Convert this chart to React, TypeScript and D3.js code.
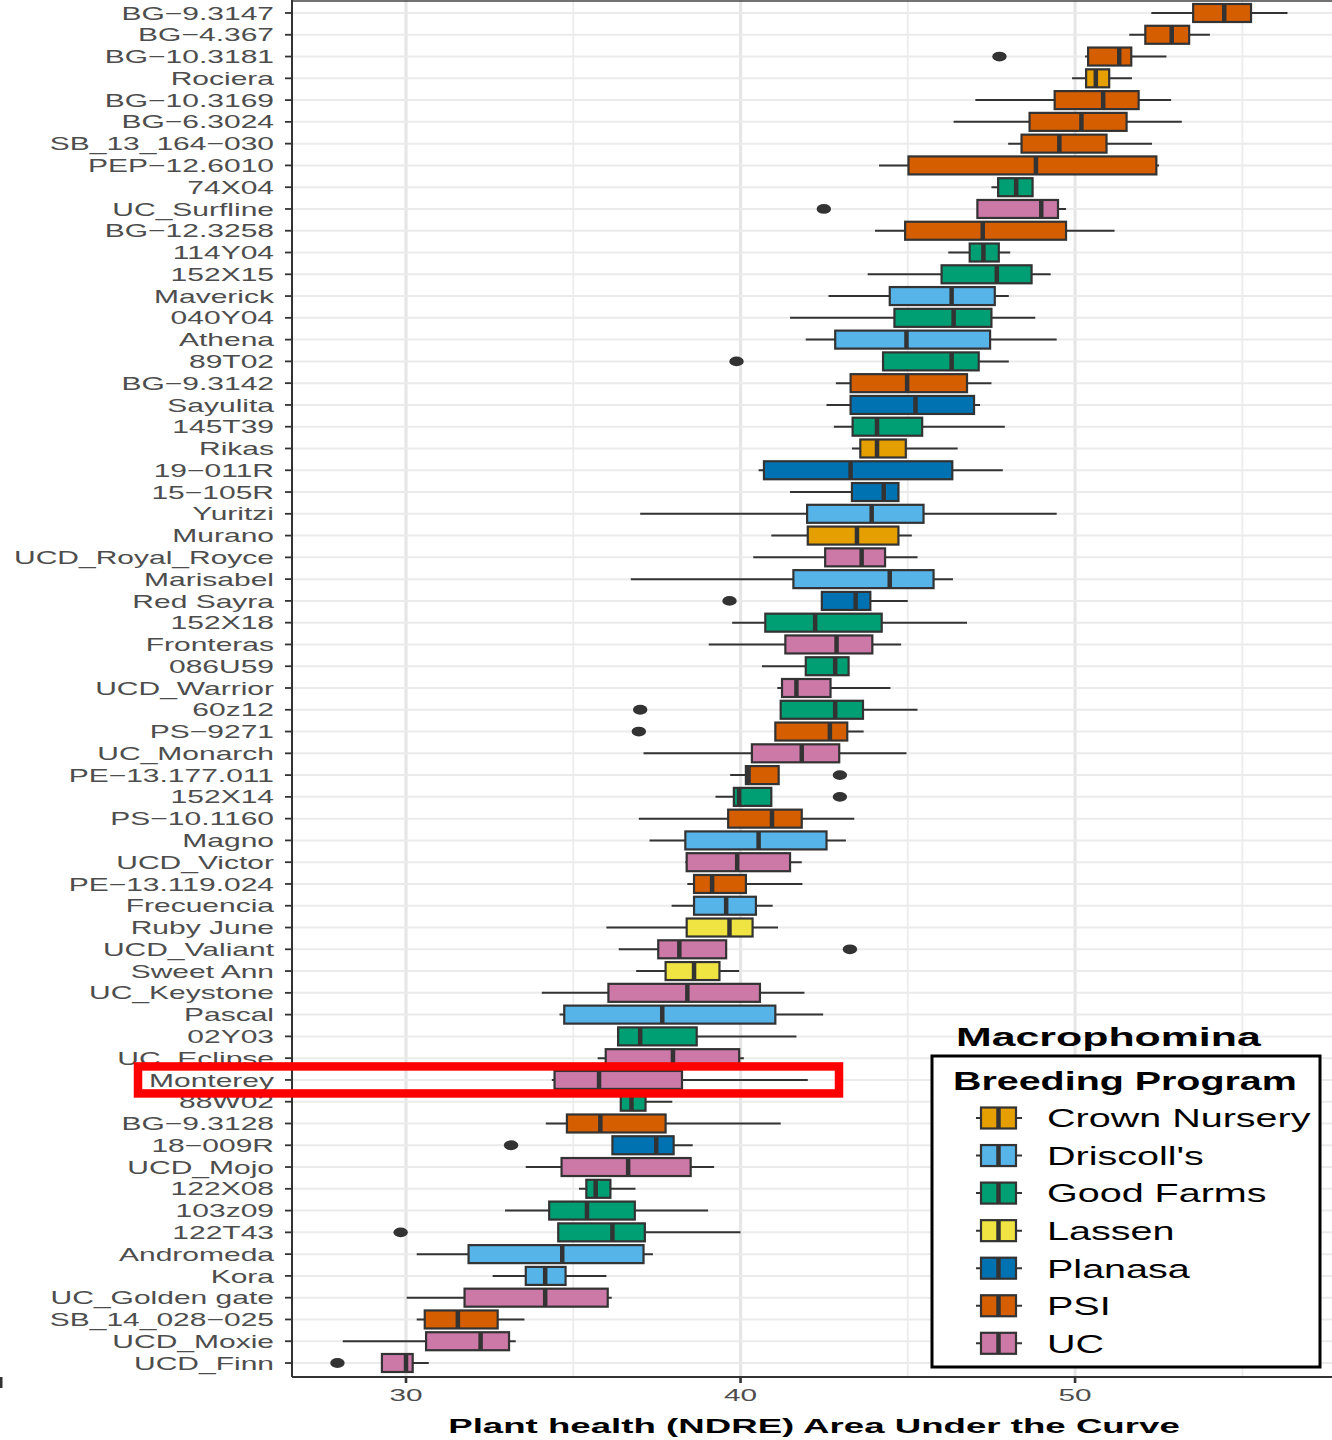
import React from 'react';
import * as d3 from 'd3';

// Cultivars, top to bottom
const categories = [
  'BG−9.3147', 'BG−4.367', 'BG−10.3181', 'Rociera', 'BG−10.3169', 'BG−6.3024', 'SB_13_164−030',
  'PEP−12.6010', '74X04', 'UC_Surfline', 'BG−12.3258', '114Y04', '152X15', 'Maverick', '040Y04',
  'Athena', '89T02', 'BG−9.3142', 'Sayulita', '145T39', 'Rikas', '19−011R', '15−105R', 'Yuritzi',
  'Murano', 'UCD_Royal_Royce', 'Marisabel', 'Red Sayra', '152X18', 'Fronteras', '086U59',
  'UCD_Warrior', '60z12', 'PS−9271', 'UC_Monarch', 'PE−13.177.011', '152X14', 'PS−10.1160',
  'Magno', 'UCD_Victor', 'PE−13.119.024', 'Frecuencia', 'Ruby June', 'UCD_Valiant', 'Sweet Ann',
  'UC_Keystone', 'Pascal', '02Y03', 'UC_Eclipse', 'Monterey', '88W02', 'BG−9.3128', '18−009R',
  'UCD_Mojo', '122X08', '103z09', '122T43', 'Andromeda', 'Kora', 'UC_Golden gate',
  'SB_14_028−025', 'UCD_Moxie', 'UCD_Finn',
];

// Breeding program of each cultivar
const program = [
  'PSI', 'PSI', 'PSI', 'Crown Nursery', 'PSI', 'PSI', 'PSI',
  'PSI', 'Good Farms', 'UC', 'PSI', 'Good Farms', 'Good Farms', "Driscoll's", 'Good Farms',
  "Driscoll's", 'Good Farms', 'PSI', 'Planasa', 'Good Farms', 'Crown Nursery', 'Planasa', 'Planasa', "Driscoll's",
  'Crown Nursery', 'UC', "Driscoll's", 'Planasa', 'Good Farms', 'UC', 'Good Farms',
  'UC', 'Good Farms', 'PSI', 'UC', 'PSI', 'Good Farms', 'PSI',
  "Driscoll's", 'UC', 'PSI', "Driscoll's", 'Lassen', 'UC', 'Lassen',
  'UC', "Driscoll's", 'Good Farms', 'UC', 'UC', 'Good Farms', 'PSI', 'Planasa',
  'UC', 'Good Farms', 'Good Farms', 'Good Farms', "Driscoll's", "Driscoll's", 'UC',
  'PSI', 'UC', 'UC',
];

// Box statistics (NDRE AUC)
const whiskerLow = [
  52.28, 51.62, 50.30, 49.91, 47.02, 46.37, 48.00,
  44.14, 47.50, 47.08, 44.02, 46.21, 43.80, 42.63, 41.48,
  41.95, 44.26, 42.85, 42.57, 42.79, 43.33, 40.54, 41.48, 37.00,
  40.92, 40.38, 36.72, 42.43, 39.75, 39.05, 40.64,
  41.10, 41.20, 41.04, 37.10, 39.69, 39.25, 36.96,
  37.28, 38.35, 38.41, 37.94, 35.99, 36.36, 36.88,
  34.06, 34.59, 36.34, 35.73, 34.36, 36.42, 34.18, 36.17,
  33.58, 35.17, 32.96, 34.55, 30.32, 32.59, 30.02,
  30.32, 28.11, 29.28,
];
const q1 = [
  53.53, 52.10, 50.39, 50.33, 49.39, 48.64, 48.40,
  45.02, 47.70, 47.08, 44.92, 46.85, 46.01, 44.46, 44.60,
  42.83, 44.26, 43.29, 43.29, 43.35, 43.58, 40.70, 43.33, 41.99,
  42.01, 42.53, 41.58, 42.43, 40.74, 41.34, 41.95,
  41.24, 41.20, 41.04, 40.34, 40.16, 39.80, 39.63,
  38.35, 38.39, 38.61, 38.61, 38.39, 37.54, 37.76,
  36.05, 34.73, 36.34, 35.97, 34.44, 36.42, 34.81, 36.17,
  34.65, 35.39, 34.28, 34.55, 31.87, 33.58, 31.75,
  30.56, 30.60, 29.28,
];
const median = [
  54.46, 52.89, 51.32, 50.62, 50.84, 50.19, 49.53,
  48.83, 48.24, 48.99, 47.24, 47.26, 47.66, 46.31, 46.37,
  44.96, 46.31, 44.98, 45.23, 44.08, 44.08, 43.29, 44.28, 43.92,
  43.48, 43.62, 44.46, 43.44, 42.23, 42.87, 42.83,
  41.67, 42.83, 42.67, 41.83, 40.24, 39.96, 40.94,
  40.54, 39.90, 39.15, 39.57, 39.67, 38.17, 38.61,
  38.41, 37.66, 37.00, 37.98, 35.77, 36.74, 35.81, 37.48,
  36.64, 35.67, 35.41, 36.17, 34.67, 34.16, 34.16,
  31.55, 32.23, 30.00,
];
const q3 = [
  55.26, 53.41, 51.68, 51.02, 51.90, 51.54, 50.94,
  52.43, 48.73, 49.49, 49.73, 47.72, 48.70, 47.60, 47.50,
  47.46, 47.12, 46.77, 46.98, 45.43, 44.94, 46.33, 44.72, 45.47,
  44.72, 44.32, 45.77, 43.88, 44.22, 43.94, 43.23,
  42.69, 43.66, 43.19, 42.95, 41.14, 40.92, 41.83,
  42.57, 41.48, 40.16, 40.46, 40.36, 39.57, 39.37,
  40.58, 41.04, 38.69, 39.96, 38.25, 37.16, 37.76, 38.00,
  38.51, 36.11, 36.84, 37.14, 37.10, 34.77, 36.03,
  32.74, 33.08, 30.20,
];
const whiskerHigh = [
  56.35, 54.03, 52.73, 51.70, 52.87, 53.19, 52.30,
  52.51, 48.73, 49.73, 51.18, 48.06, 49.27, 48.02, 48.81,
  49.45, 48.02, 47.50, 47.16, 47.90, 46.49, 47.84, 44.72, 49.45,
  45.12, 45.29, 46.35, 45.00, 46.77, 44.80, 43.23,
  44.48, 45.29, 43.68, 44.96, 41.14, 40.92, 43.40,
  43.15, 41.83, 41.85, 40.96, 41.12, 39.57, 39.96,
  41.91, 42.47, 41.67, 40.10, 42.01, 37.96, 41.20, 38.57,
  39.21, 36.86, 39.03, 40.00, 37.38, 35.99, 36.15,
  33.54, 33.28, 30.68,
];

// Outlying plots
const outlierCategory = [
  'BG−10.3181', 'UC_Surfline', '89T02', 'Red Sayra', '60z12', 'PS−9271',
  'PE−13.177.011', '152X14', 'UCD_Valiant', '18−009R', '122T43', 'UCD_Finn',
];
const outlierValue = [47.74, 42.49, 39.88, 39.67, 37.0, 36.96, 42.97, 42.97, 43.27, 33.14, 29.84, 27.95];

const programNames = ['Crown Nursery', "Driscoll's", 'Good Farms', 'Lassen', 'Planasa', 'PSI', 'UC'];
const programColors = ['#E69F00', '#56B4E9', '#009E73', '#F0E442', '#0072B2', '#D55E00', '#CC79A7'];

const xTicks = [30, 40, 50];
const xMinorTicks = [35, 45, 55];

const FONT = '"Liberation Sans", Arial, Helvetica, sans-serif';
const INK = '#333333';

type TxtProps = {
  x: number; y: number; sx: number; size: number; anchor?: string;
  weight?: string | number; fill?: string; children: React.ReactNode;
};

// Text stretched horizontally around its anchor point
function Txt({ x, y, sx, size, anchor = 'start', weight = 'normal', fill = '#000', children }: TxtProps) {
  return (
    <text
      transform={`translate(${x},${y}) scale(${sx},1)`}
      textAnchor={anchor}
      fontFamily={FONT}
      fontSize={size}
      fontWeight={weight}
      fill={fill}
    >
      {children}
    </text>
  );
}

export default function App() {
  const W = 1332;
  const H = 1440;
  const panel = { left: 292, right: 1336, top: 0, bottom: 1377 };

  const x = d3.scaleLinear().domain([26.592, 57.8]).range([panel.left, panel.right]);
  const y = d3.scalePoint<string>().domain(categories).range([13, 1363]);
  const color = d3.scaleOrdinal<string, string>().domain(programNames).range(programColors);

  const boxH = 18;

  const legend = { x: 932, y: 1056, w: 388, h: 311 };
  const keyY0 = 1118;
  const keyStep = 37.55;

  return (
    <svg
      width={W}
      height={H}
      viewBox={`0 0 ${W} ${H}`}
      style={{ position: 'absolute', left: 0, top: 0, display: 'block', background: '#fff' }}
    >
      <rect x={0} y={0} width={W} height={H} fill="#fff" />

      {/* grid */}
      <g>
        {xMinorTicks.map((t) => (
          <line key={`mn${t}`} x1={x(t)} x2={x(t)} y1={panel.top} y2={panel.bottom} stroke="#ececec" strokeWidth={1.8} />
        ))}
        {xTicks.map((t) => (
          <line key={`mj${t}`} x1={x(t)} x2={x(t)} y1={panel.top} y2={panel.bottom} stroke="#e6e6e6" strokeWidth={3.2} />
        ))}
        {categories.map((c) => (
          <line key={`hg${c}`} x1={panel.left} x2={panel.right} y1={y(c)} y2={y(c)} stroke="#ebebeb" strokeWidth={2} />
        ))}
      </g>

      {/* panel border / axes */}
      <line x1={panel.left} x2={panel.right} y1={1} y2={1} stroke="#444" strokeWidth={1.6} />
      <line x1={panel.left} x2={panel.left} y1={0} y2={panel.bottom} stroke={INK} strokeWidth={2} />
      <line x1={panel.left} x2={panel.right} y1={panel.bottom} y2={panel.bottom} stroke={INK} strokeWidth={2} />

      {/* y ticks and labels */}
      <g>
        {categories.map((c) => (
          <g key={`yl${c}`}>
            <line x1={285} x2={panel.left} y1={y(c)} y2={y(c)} stroke={INK} strokeWidth={1.8} />
            <Txt x={274} y={(y(c) as number) + 6.6} sx={1.63} size={18.4} anchor="end" fill="#4d4d4d">
              {c}
            </Txt>
          </g>
        ))}
      </g>

      {/* x ticks and labels */}
      <g>
        {xTicks.map((t) => (
          <g key={`xt${t}`}>
            <line x1={x(t)} x2={x(t)} y1={panel.bottom} y2={panel.bottom + 6} stroke={INK} strokeWidth={2.6} />
            <Txt x={x(t)} y={1400.5} sx={1.75} size={17} anchor="middle" fill="#4d4d4d">
              {t}
            </Txt>
          </g>
        ))}
      </g>
      <Txt x={(panel.left + panel.right) / 2} y={1433} sx={1.745} size={21} anchor="middle" weight="bold">
        Plant health (NDRE) Area Under the Curve
      </Txt>

      {/* boxes */}
      <g>
        {categories.map((c, i) => {
          const cy = y(c) as number;
          return (
            <g key={`bx${c}`}>
              <line x1={x(whiskerLow[i])} x2={x(whiskerHigh[i])} y1={cy} y2={cy} stroke={INK} strokeWidth={2} />
              <rect
                x={x(q1[i])}
                y={cy - boxH / 2}
                width={x(q3[i]) - x(q1[i])}
                height={boxH}
                fill={color(program[i])}
                stroke={INK}
                strokeWidth={2.2}
              />
              <line x1={x(median[i])} x2={x(median[i])} y1={cy - boxH / 2} y2={cy + boxH / 2} stroke={INK} strokeWidth={4.5} />
            </g>
          );
        })}
        {outlierCategory.map((c, i) => (
          <ellipse key={`o${i}`} cx={x(outlierValue[i])} cy={y(c) as number} rx={7.2} ry={4.9} fill={INK} />
        ))}
      </g>

      {/* legend */}
      <Txt x={956} y={1046} sx={1.715} size={25} weight="bold">
        Macrophomina
      </Txt>
      <rect x={legend.x} y={legend.y} width={legend.w} height={legend.h} fill="#fff" stroke="#000" strokeWidth={3} />
      <Txt x={953} y={1090} sx={1.54} size={25.6} weight="bold">
        Breeding Program
      </Txt>
      {programNames.map((p, i) => {
        const cy = keyY0 + i * keyStep;
        return (
          <g key={`lg${p}`}>
            <line x1={976} x2={1022} y1={cy} y2={cy} stroke={INK} strokeWidth={2} />
            <rect x={981} y={cy - 10.5} width={35} height={21} fill={programColors[i]} stroke={INK} strokeWidth={2.2} />
            <line x1={998.5} x2={998.5} y1={cy - 10.5} y2={cy + 10.5} stroke={INK} strokeWidth={4.5} />
            <Txt x={1047} y={cy + 9.3} sx={1.52} size={26}>
              {p}
            </Txt>
          </g>
        );
      })}

      {/* highlight around Monterey */}
      <rect
        x={138}
        y={(y('Monterey') as number) - 13.5}
        width={701}
        height={27}
        fill="none"
        stroke="#ff0000"
        strokeWidth={8.5}
      />

      {/* small dark mark at the left margin */}
      <path d="M0,1377 L2.5,1377 L2.5,1388 L0,1388 Z" fill="#333" />
    </svg>
  );
}
